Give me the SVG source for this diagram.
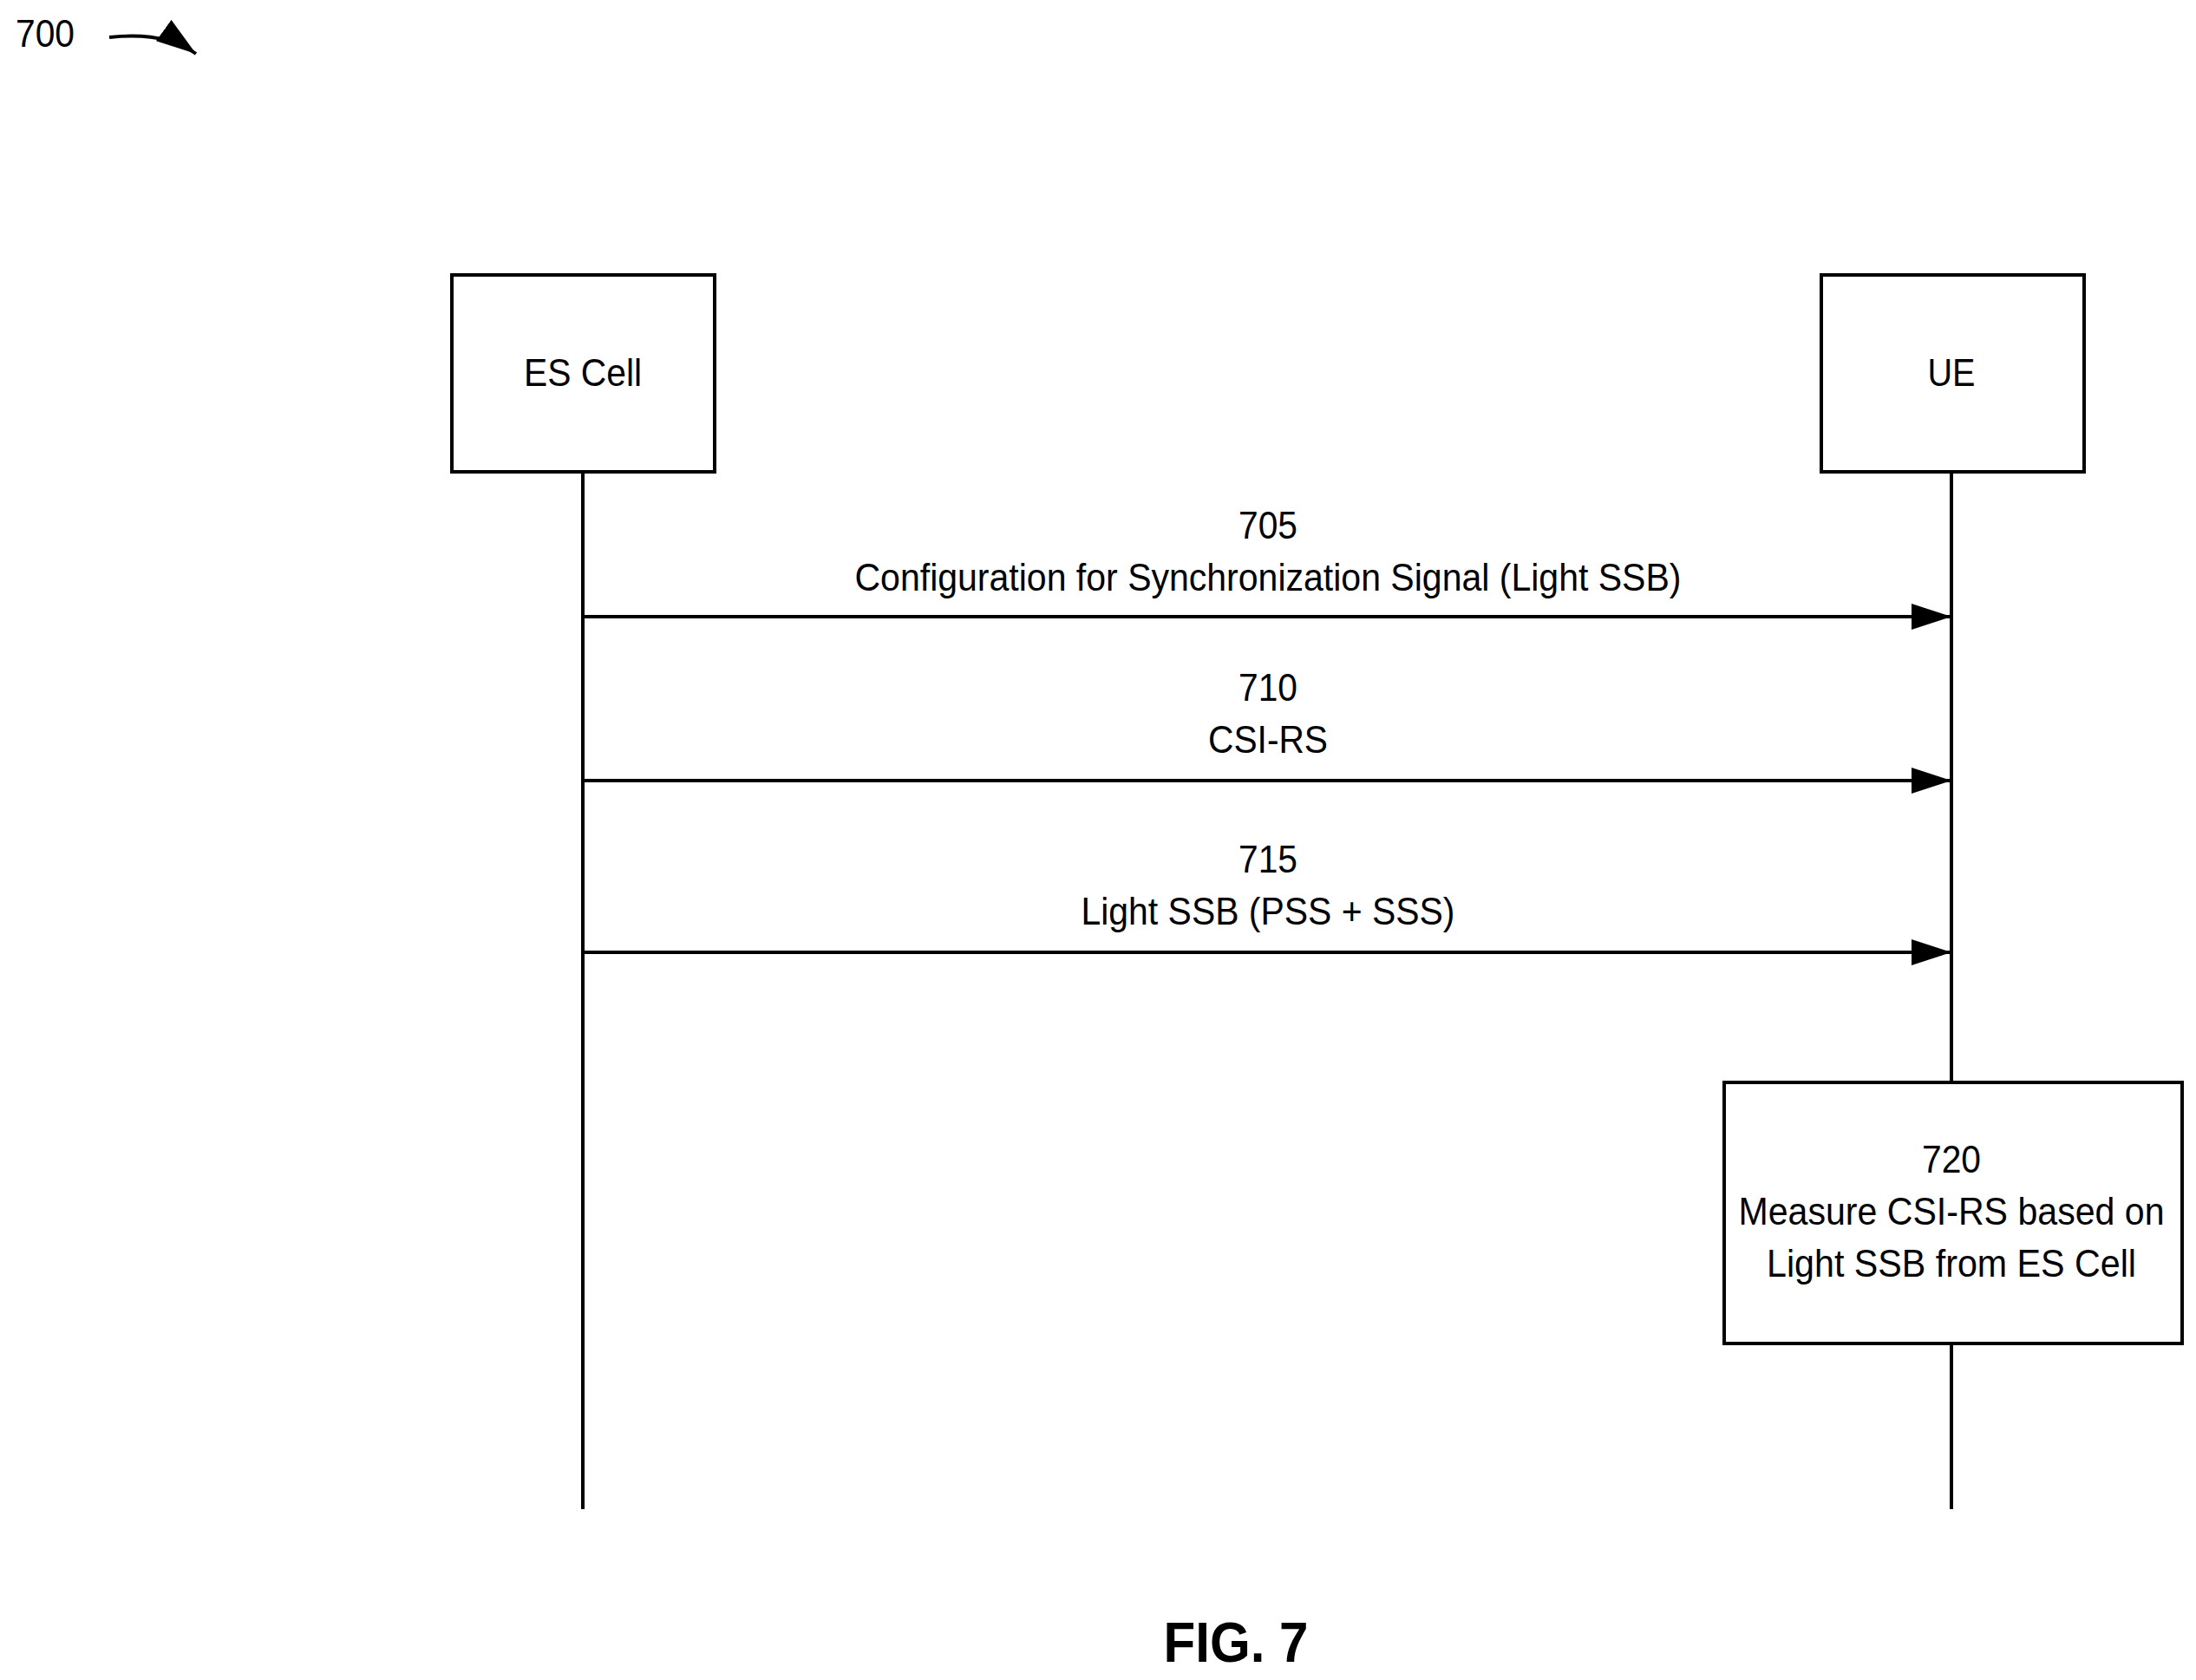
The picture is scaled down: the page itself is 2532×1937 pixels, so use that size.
<svg xmlns="http://www.w3.org/2000/svg" width="2532" height="1937" viewBox="0 0 2532 1937">
<style>
text{font-family:"Liberation Sans",Arial,sans-serif;font-size:44px;fill:#000;text-anchor:middle}
.b{fill:#fff;stroke:#000;stroke-width:4}
.l{stroke:#000;stroke-width:4;fill:none}
</style>
<defs><marker id="a" markerWidth="12" markerHeight="8" refX="12" refY="4" orient="auto" markerUnits="userSpaceOnUse" viewBox="0 0 12 8"><path d="M0,0L12,4L0,8z"/></marker>
<marker id="h" viewBox="0 0 10 10" refX="10" refY="5" markerWidth="46" markerHeight="30" orient="auto" markerUnits="userSpaceOnUse" preserveAspectRatio="none"><path d="M0,0L10,5L0,10z"/></marker></defs>
<text x="52" y="54" textLength="68" lengthAdjust="spacingAndGlyphs">700</text>
<path class="l" d="M126,43 Q190,36 226,62" marker-end="url(#h)"/>
<g id="connectors">
<line class="l" x1="672" y1="544" x2="672" y2="1740"/>
<line class="l" x1="2250" y1="544" x2="2250" y2="1248"/>
<line class="l" x1="2250" y1="1549" x2="2250" y2="1740"/>
<line class="l" x1="672" y1="711" x2="2250" y2="711" marker-end="url(#h)"/>
<line class="l" x1="672" y1="900" x2="2250" y2="900" marker-end="url(#h)"/>
<line class="l" x1="672" y1="1098" x2="2250" y2="1098" marker-end="url(#h)"/>
<text x="1462" y="621" textLength="68" lengthAdjust="spacingAndGlyphs">705</text>
<text x="1462" y="681" textLength="953" lengthAdjust="spacingAndGlyphs">Configuration for Synchronization Signal (Light SSB)</text>
<text x="1462" y="808" textLength="68" lengthAdjust="spacingAndGlyphs">710</text>
<text x="1462" y="868" textLength="138" lengthAdjust="spacingAndGlyphs">CSI-RS</text>
<text x="1462" y="1006" textLength="68" lengthAdjust="spacingAndGlyphs">715</text>
<text x="1462" y="1066" textLength="431" lengthAdjust="spacingAndGlyphs">Light SSB (PSS + SSS)</text>
</g>
<g id="es"><rect class="b" x="521" y="317" width="303" height="227"/><text x="672" y="445" textLength="136" lengthAdjust="spacingAndGlyphs">ES Cell</text></g>
<g id="ue"><rect class="b" x="2100" y="317" width="303" height="227"/><text x="2250" y="445" textLength="55" lengthAdjust="spacingAndGlyphs">UE</text></g>
<g id="n720"><rect class="b" x="1988" y="1248" width="528" height="301"/>
<text x="2250" y="1352" textLength="68" lengthAdjust="spacingAndGlyphs">720</text>
<text x="2250" y="1412" textLength="491" lengthAdjust="spacingAndGlyphs">Measure CSI-RS based on</text>
<text x="2250" y="1472" textLength="426" lengthAdjust="spacingAndGlyphs">Light SSB from ES Cell</text></g>
<text x="1425" y="1916" style="font-weight:bold;font-size:64px" textLength="167" lengthAdjust="spacingAndGlyphs">FIG. 7</text>
</svg>
